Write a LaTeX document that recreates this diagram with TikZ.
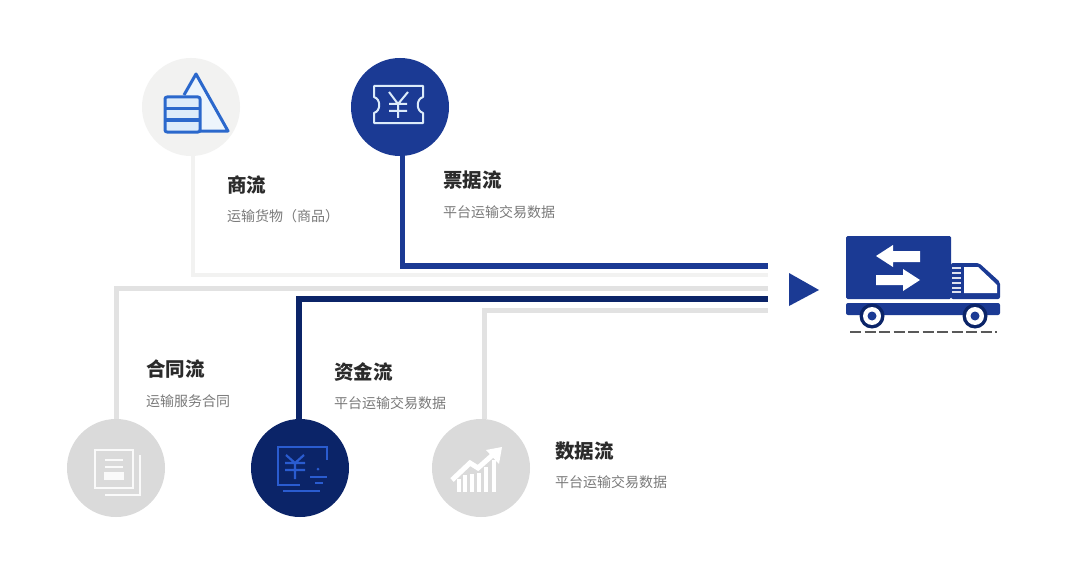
\documentclass[tikz,border=0pt]{standalone}
\usepackage{fontspec}
\setmainfont{Noto Sans CJK SC}
\usepackage{tikz}
\usetikzlibrary{positioning}
\definecolor{eBlue}{HTML}{1B3A94}
\definecolor{eNavy}{HTML}{0B2468}
\definecolor{eIcon}{HTML}{2B68CC}
\definecolor{eIconB}{HTML}{2A5CD0}
\definecolor{eSky}{HTML}{DCEBFA}
\definecolor{eGray}{HTML}{DADADA}
\definecolor{eLine}{HTML}{E2E2E2}
\definecolor{ePale}{HTML}{F2F2F1}
\definecolor{eText}{HTML}{2B2B2B}
\definecolor{eSub}{HTML}{7A7A7A}
\tikzset{v/.style={circle, inner sep=0pt, minimum size=98pt}}
\tikzset{t/.style={anchor=west, inner sep=0pt, text=eText, font=\fontsize{19.5}{21}\selectfont\bfseries}}
\tikzset{s/.style={anchor=west, inner sep=0pt, text=eSub, font=\fontsize{14}{16}\selectfont}}
\tikzset{lb/.style={draw=eBlue, line width=5.5pt}}
\tikzset{ln/.style={draw=eNavy, line width=6pt}}
\tikzset{lg/.style={draw=eLine, line width=5pt}}
\tikzset{lp/.style={draw=ePale, line width=4pt}}
\tikzset{ic/.style={draw=eIcon, line width=3pt, line join=round}}
\tikzset{ig/.style={draw=white!96!gray, line width=2.2pt}}
\tikzset{iw/.style={draw=eSky, line width=2pt, line join=round}}
\tikzset{in2/.style={draw=eIconB, line width=2.2pt}}
\begin{document}
\begin{tikzpicture}[x=1pt,y=-1pt]
    \useasboundingbox[fill=white] (0,0) rectangle (1080,586);
    %% flow circles
    \node (shang) at (191,107) [v, fill=ePale] {};
    \node (piao) at (400,107) [v, fill=eBlue] {};
    \node (hetong) at (116,468) [v, fill=eGray] {};
    \node (zijin) at (300,468) [v, fill=eNavy] {};
    \node (shuju) at (481,468) [v, fill=eGray] {};
    %% free ends of the lines
    \coordinate (e1) at (768,266);
    \coordinate (e2) at (768,275);
    \coordinate (e3) at (768,288);
    \coordinate (e4) at (768,299);
    \coordinate (e5) at (768,310);
    \draw [lp] ([xshift=2pt]shang.south) |- (e2);
    \draw [lg] (hetong.north) |- (e3);
    \draw [lg] ([xshift=3pt]shuju.north) |- (e5);
    \draw [lb] ([xshift=2.5pt]piao.south) |- (e1);
    \draw [ln] ([xshift=-1pt]zijin.north) |- (e4);
    %% labels
    \node (t1) at (227,185) [t] {商流};
    \node (s1) at (227,216) [s] {运输货物（商品）};
    \node (t2) at (443,180) [t] {票据流};
    \node (s2) at (443,212) [s] {平台运输交易数据};
    \node (t3) at (146,369) [t] {合同流};
    \node (s3) at (146,401) [s] {运输服务合同};
    \node (t4) at (334,372) [t] {资金流};
    \node (s4) at (334,403) [s] {平台运输交易数据};
    \node (t5) at (555,451) [t] {数据流};
    \node (s5) at (555,482) [s] {平台运输交易数据};
    %% goods icon
    \draw [ic, fill=eSky!50!white] (184,95) -- (196,74) -- (228,131) -- (200,131);
    \draw [ic, fill=eSky, rounded corners=2pt] (165,97) rectangle (200,132);
    \draw [ic] (165,109) -- (200,109) (165,120) -- (200,120);
    %% ticket icon
    \draw [iw] (374,86) -- (423,86) -- (423,97) .. controls (416,99) and (416,111) .. (423,113)
        -- (423,123) -- (374,123) -- (374,113) .. controls (381,111) and (381,99) .. (374,97) -- cycle;
    \draw [iw] (389,92) -- (398,104) -- (408,92) (389,104) -- (407,104) (389,111) -- (407,111) (398,104) -- (398,118);
    %% contract icon
    \draw [ig] (95,450) rectangle (133,488);
    \draw [ig] (140,455) -- (140,495) -- (105,495);
    \draw [ig] (105,460) -- (123,460) (105,467) -- (123,467);
    \fill [white!96!gray] (104,472) rectangle (124,480);
    %% money icon
    \draw [in2] (327,460) -- (327,447) -- (278,447) -- (278,485) -- (300,485);
    \draw [in2] (286,455) -- (295,463) -- (304,455) (285,463) -- (305,463) (285,470) -- (305,470) (295,463) -- (295,479);
    \fill [eIconB] (318,469) circle (1.5);
    \draw [in2] (310,477) -- (327,477) (315,483) -- (323,483) (283,491) -- (320,491);
    %% data icon
    \draw [white, line width=5pt] (452,480) -- (470,463) -- (478,468) -- (496,452);
    \fill [white] (486,450) -- (502,447) -- (499,464) -- cycle;
    \foreach \x/\h in {459/479,465/475,472/474,479/473,486/467,494/460}
        \fill [white] (\x-1.8,492) rectangle (\x+1.8,\h);
    %% arrow and truck
    \fill [eBlue] (789,273) -- (819,290) -- (789,306) -- cycle;
    \fill [eBlue, rounded corners=1.5pt] (846,236) rectangle (951,299);
    \fill [eBlue, rounded corners=2pt] (951,263) -- (979,263) -- (1000,282) -- (1000,299) -- (951,299) -- cycle;
    \fill [white] (964,267) -- (978,267) -- (997,285) -- (997,293) -- (964,293) -- cycle;
    \foreach \y in {268,273,278,283,288,292}
        \draw [white!85!eBlue, line width=1.6pt] (952,\y) -- (961,\y);
    \fill [eBlue, rounded corners=2pt] (846,303) rectangle (1000,315);
    \fill [white] (876,256) -- (893,245) -- (893,251) -- (920,251) -- (920,262) -- (893,262) -- (893,267) -- cycle;
    \fill [white] (920,280) -- (903,269) -- (903,275) -- (876,275) -- (876,285) -- (903,285) -- (903,291) -- cycle;
    \foreach \x in {872,975} {
        \fill [eNavy] (\x,316) circle (12.5);
        \fill [white] (\x,316) circle (9);
        \fill [eBlue] (\x,316) circle (4.5);
    }
    \draw [black!65, line width=2.8pt, dash pattern=on 11pt off 3.5pt] (850,332) -- (997,332);
\end{tikzpicture}
\end{document}
